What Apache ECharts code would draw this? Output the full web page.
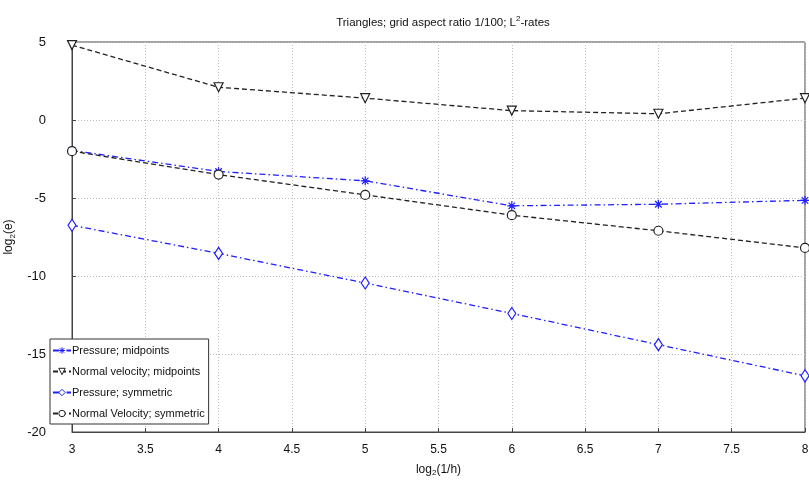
<!DOCTYPE html>
<html>
<head>
<meta charset="utf-8">
<script src="https://cdn.jsdelivr.net/npm/echarts@6/dist/echarts.min.js"></script>
<style>
    html, body { margin: 0; padding: 0; background: #fff; }
    #chart { width: 809px; height: 483px; }
</style>
</head>
<body>
<div id="chart"></div>
<script>
var log = console.log.bind(console)

// log2(1/h)
var xs = [3, 4, 5, 6, 7, 8]
var pressureMid = [-1.95, -3.3, -3.9, -5.5, -5.4, -5.15]
var velocityMid = [4.8, 2.1, 1.4, 0.6, 0.4, 1.4]
var pressureSym = [-6.75, -8.55, -10.45, -12.4, -14.4, -16.4]
var velocitySym = [-2.0, -3.5, -4.8, -6.1, -7.1, -8.2]
var names = ['Pressure; midpoints', 'Normal velocity; midpoints', 'Pressure; symmetric', 'Normal Velocity; symmetric']

var font = "'Liberation Sans', Arial, sans-serif"
var blue = '#1f1fff'
var black = '#222'
var star = 'path://M0,-5L0,5M-5,0L5,0M-3.6,-3.6L3.6,3.6M-3.6,3.6L3.6,-3.6'

var pairs = function(ys) {
    var r = []
    for (var i = 0; i < xs.length; i++) {
        r.push([xs[i], ys[i]])
    }
    return r
}

var makeSeries = function(name, ys, color, dash, symbol, rotate, size) {
    return {
        name: name,
        type: 'line',
        data: pairs(ys),
        symbol: symbol,
        symbolSize: size,
        symbolRotate: rotate,
        showAllSymbol: true,
        lineStyle: {color: color, width: 1.3, type: dash},
        itemStyle: {color: '#fff', borderColor: color, borderWidth: 1.2},
        emphasis: {disabled: true},
        z: 3,
    }
}

var legendData = function() {
    var colors = [blue, black, blue, black]
    return names.map(function(n, i) {
        return {name: n, itemStyle: {color: '#fff', borderColor: colors[i], borderWidth: 1}}
    })
}

var __main = function() {
    var chart = echarts.init(document.querySelector('#chart'))
    var dashDot = [6, 3, 1.5, 3]
    var option = {
        animation: false,
        backgroundColor: '#fff',
        title: {
            text: 'Triangles; grid aspect ratio 1/100; L{sup|2}-rates',
            left: 438,
            textAlign: 'center',
            top: 10,
            textStyle: {
                fontFamily: font,
                fontSize: 11.5,
                fontWeight: 'normal',
                color: '#111',
                rich: {sup: {fontSize: 8, verticalAlign: 'bottom', padding: [0, 0, 7, 0], fontFamily: font, color: '#111'}},
            },
        },
        grid: {
            left: 72, right: 4, top: 42, bottom: 51,
            containLabel: false, outerBoundsMode: 'none',
            show: true, borderColor: '#444', borderWidth: 1,
        },
        legend: {
            orient: 'vertical',
            left: 50,
            top: 339,
            itemWidth: 18,
            itemHeight: 8,
            itemGap: 10,
            padding: [6, 4, 5, 2],
            backgroundColor: '#fff',
            borderColor: '#333',
            borderWidth: 1,
            borderRadius: 0,
            textStyle: {fontFamily: font, fontSize: 11, color: '#111', padding: [0, 0, 0, -4]},
            data: legendData(),
        },
        xAxis: {
            type: 'value',
            min: 3,
            max: 8,
            interval: 0.5,
            name: 'log{sub|2}(1/h)',
            nameLocation: 'middle',
            nameGap: 30,
            nameTextStyle: {
                fontFamily: font, fontSize: 12, color: '#111',
                rich: {sub: {fontSize: 8, verticalAlign: 'top', padding: [7, 0, 0, 0], fontFamily: font, color: '#111'}},
            },
            axisLine: {onZero: false, lineStyle: {color: '#444'}},
            axisTick: {inside: true, length: 4, lineStyle: {color: '#444'}},
            axisLabel: {fontFamily: font, fontSize: 12, color: '#111', margin: 12},
            splitLine: {show: true, lineStyle: {color: '#bbb', type: [1, 2]}},
        },
        yAxis: {
            type: 'value',
            min: -20,
            max: 5,
            interval: 5,
            name: 'log{sub|2}(e)',
            nameLocation: 'middle',
            nameGap: 50,
            nameRotate: 90,
            nameTextStyle: {
                fontFamily: font, fontSize: 12, color: '#111',
                rich: {sub: {fontSize: 8, verticalAlign: 'top', padding: [7, 0, 0, 0], fontFamily: font, color: '#111'}},
            },
            axisLine: {show: true, onZero: false, lineStyle: {color: '#444'}},
            axisTick: {show: true, inside: true, length: 4, lineStyle: {color: '#444'}},
            axisLabel: {fontFamily: font, fontSize: 13, color: '#111', margin: 26},
            splitLine: {show: true, lineStyle: {color: '#bbb', type: [1, 2]}},
        },
        series: [
            makeSeries(names[0], pressureMid, blue, dashDot, star, 0, 9),
            makeSeries(names[1], velocityMid, black, [5, 3], 'triangle', 180, 9),
            makeSeries(names[2], pressureSym, blue, dashDot, 'diamond', 0, [8, 12]),
            makeSeries(names[3], velocitySym, black, [5, 3], 'circle', 0, 9),
        ],
    }
    chart.setOption(option)
}

__main()
</script>
</body>
</html>
